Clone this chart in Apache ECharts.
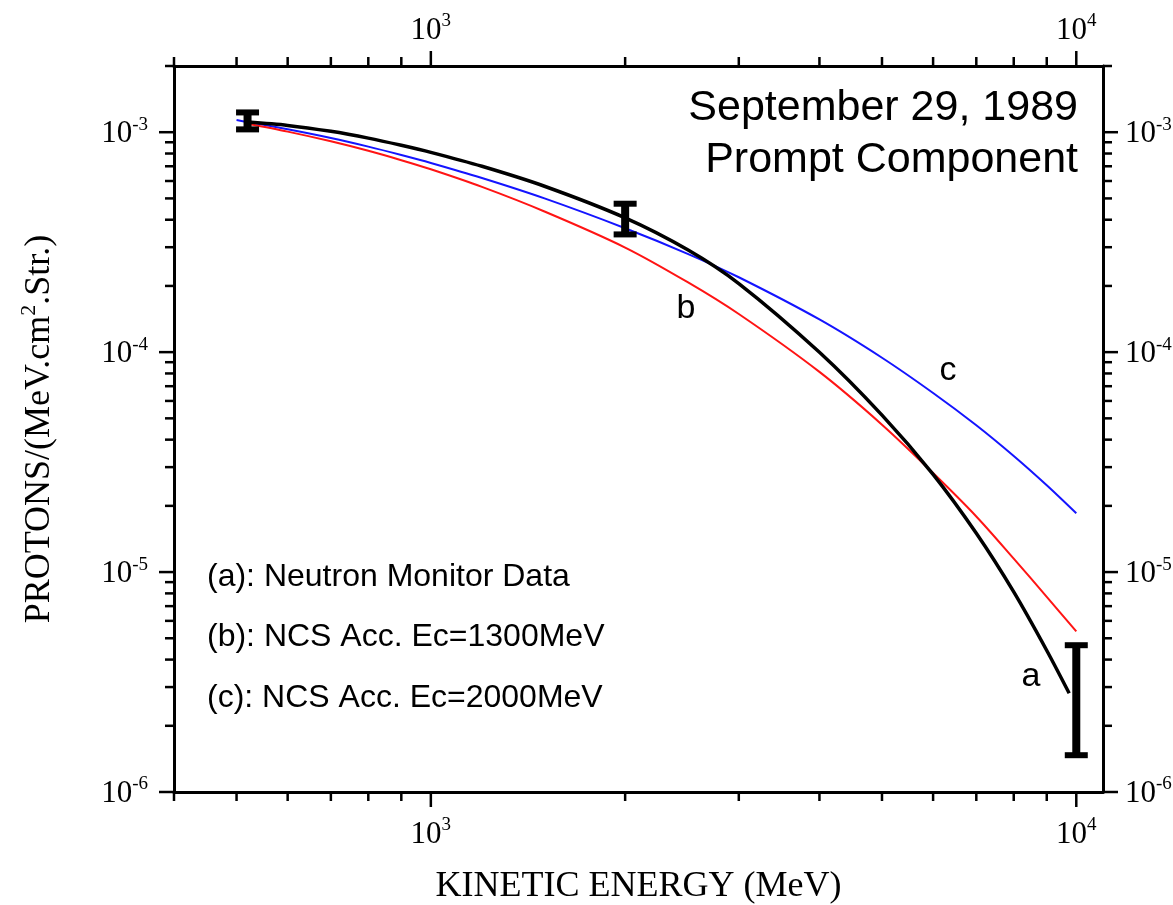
<!DOCTYPE html>
<html>
<head>
<meta charset="utf-8">
<script src="https://cdn.jsdelivr.net/npm/echarts@6.0.0/dist/echarts.min.js"></script>
<style>
  html, body { margin: 0; padding: 0; background: #fff; }
  #chart { width: 1173px; height: 905px; }
</style>
</head>
<body>
<div id="chart"></div>
<script>
// Kinetic energy (MeV) and differential proton flux, Sept 29 1989 GLE, prompt component
const energyA = [520, 600, 700, 800, 900, 1000, 1200, 1500, 2000, 2500, 3000, 4000, 5000, 6000, 7000, 8000, 9000, 9750];
const fluxA   = [1.112e-3, 1.074e-3, 1.009e-3, 9.40e-4, 8.72e-4, 8.10e-4, 7.00e-4, 5.68e-4, 4.08e-4, 2.92e-4, 2.05e-4, 9.98e-5, 5.17e-5, 2.78e-5, 1.50e-5, 8.12e-6, 4.40e-6, 2.81e-6];

const energyB = [520, 600, 700, 800, 900, 1000, 1200, 1500, 2000, 2500, 3000, 4000, 5000, 6000, 7000, 8000, 9000, 10000];
const fluxB   = [1.092e-3, 1.006e-3, 9.09e-4, 8.23e-4, 7.46e-4, 6.78e-4, 5.64e-4, 4.36e-4, 2.99e-4, 2.08e-4, 1.49e-4, 8.13e-5, 4.68e-5, 2.82e-5, 1.79e-5, 1.151e-5, 7.72e-6, 5.37e-6];

const energyC = [500, 520, 600, 700, 800, 900, 1000, 1200, 1500, 2000, 2500, 3000, 4000, 5000, 6000, 7000, 8000, 9000, 10000];
const fluxC   = [1.135e-3, 1.113e-3, 1.031e-3, 9.41e-4, 8.60e-4, 7.88e-4, 7.25e-4, 6.19e-4, 5.00e-4, 3.66e-4, 2.80e-4, 2.19e-4, 1.408e-4, 9.43e-5, 6.52e-5, 4.65e-5, 3.37e-5, 2.48e-5, 1.85e-5];

// Neutron monitor derived points with uncertainty range
const errEnergy = [520, 2000, 10000];
const errLow    = [1.03e-3, 3.43e-4, 1.47e-6];
const errHigh   = [1.23e-3, 4.73e-4, 4.65e-6];

// Axis ranges and tick positions
const X_MIN = 400, X_MAX = 11000;
const Y_MIN = 1e-6, Y_MAX = 2e-3;
const xMajorTicks = [1000, 10000];
const xMinorTicks = [400, 500, 600, 700, 800, 900, 2000, 3000, 4000, 5000, 6000, 7000, 8000, 9000];
const yMajorTicks = [1e-6, 1e-5, 1e-4, 1e-3];
const yMinorTicks = [2e-6, 3e-6, 4e-6, 5e-6, 6e-6, 7e-6, 8e-6, 9e-6,
                     2e-5, 3e-5, 4e-5, 5e-5, 6e-5, 7e-5, 8e-5, 9e-5,
                     2e-4, 3e-4, 4e-4, 5e-4, 6e-4, 7e-4, 8e-4, 9e-4, 2e-3];

const SERIF = 'Liberation Serif';
const SANS = 'Liberation Sans';

function powLabel(v) {
  const lg = Math.log10(v);
  const e = Math.round(lg);
  if (Math.abs(lg - e) > 1e-6) return '';
  return '{b|10}{s|' + e + '}';
}
const labelRich = {
  b: { fontFamily: SERIF, fontSize: 31, color: '#000', lineHeight: 34, verticalAlign: 'bottom' },
  s: { fontFamily: SERIF, fontSize: 19, color: '#000', lineHeight: 19, verticalAlign: 'top' }
};
const axisLineStyle = { show: true, lineStyle: { color: '#000', width: 3 } };

function logAxis(extra, margin) {
  return Object.assign({
    type: 'log',
    logBase: 10,
    axisLine: axisLineStyle,
    axisTick: { show: false },
    minorTick: { show: false },
    splitLine: { show: false },
    minorSplitLine: { show: false },
    axisLabel: { formatter: powLabel, rich: labelRich, margin: margin, showMinLabel: true, showMaxLabel: true }
  }, extra);
}

// Tick marks drawn on both sides of the frame (outward), through the axis scales
function tickSeries(values, major, horizontal) {
  const len = major ? 15 : 9;
  return {
    type: 'custom',
    silent: true,
    z: 5,
    data: values.map(v => horizontal ? [v, Y_MIN] : [X_MIN, v]),
    renderItem: function (params, api) {
      const cs = params.coordSys;
      const p = api.coord([api.value(0), api.value(1)]);
      const st = { stroke: '#000', lineWidth: 2.5 };
      if (horizontal) {
        const bottom = cs.y + cs.height, top = cs.y;
        return { type: 'group', children: [
          { type: 'line', shape: { x1: p[0], y1: bottom, x2: p[0], y2: bottom + len }, style: st },
          { type: 'line', shape: { x1: p[0], y1: top, x2: p[0], y2: top - len }, style: st }
        ] };
      }
      const left = cs.x, right = cs.x + cs.width;
      return { type: 'group', children: [
        { type: 'line', shape: { x1: left, y1: p[1], x2: left - len, y2: p[1] }, style: st },
        { type: 'line', shape: { x1: right, y1: p[1], x2: right + len, y2: p[1] }, style: st }
      ] };
    }
  };
}

function pairs(xs, ys) { return xs.map((x, i) => [x, ys[i]]); }

const chart = echarts.init(document.getElementById('chart'), null, { renderer: 'canvas' });

chart.setOption({
  backgroundColor: '#fff',
  animation: false,
  grid: { left: 174, right: 70, top: 66, bottom: 113, containLabel: false, outerBoundsMode: 'none' },
  xAxis: [
    logAxis({
      position: 'bottom', min: X_MIN, max: X_MAX,
      name: 'KINETIC ENERGY (MeV)', nameLocation: 'middle', nameGap: 77,
      nameTextStyle: { fontFamily: SERIF, fontSize: 36, color: '#000' }
    }, 24),
    logAxis({ position: 'top', min: X_MIN, max: X_MAX }, 20)
  ],
  yAxis: [
    logAxis({
      position: 'left', min: Y_MIN, max: Y_MAX,
      name: '{t|PROTONS/(MeV.cm}{s|2}{t|.Str.)}', nameLocation: 'middle', nameGap: 116, nameRotate: 90,
      nameTextStyle: {
        rich: {
          t: { fontFamily: SERIF, fontSize: 36, color: '#000', lineHeight: 40, verticalAlign: 'bottom' },
          s: { fontFamily: SERIF, fontSize: 22, color: '#000', lineHeight: 22, verticalAlign: 'top' }
        }
      }
    }, 26),
    logAxis({ position: 'right', min: Y_MIN, max: Y_MAX }, 22)
  ],
  series: [
    {
      name: 'c', type: 'line', data: pairs(energyC, fluxC), smooth: 0.3,
      showSymbol: false, lineStyle: { color: '#1414ff', width: 2 }, z: 2
    },
    {
      name: 'b', type: 'line', data: pairs(energyB, fluxB), smooth: 0.3,
      showSymbol: false, lineStyle: { color: '#ff1414', width: 2 }, z: 2
    },
    {
      name: 'a', type: 'line', data: pairs(energyA, fluxA), smooth: 0.3,
      showSymbol: false, lineStyle: { color: '#000', width: 3.5 }, z: 3
    },
    {
      name: 'error bars', type: 'custom', z: 6,
      data: errEnergy.map((x, i) => [x, errLow[i], errHigh[i]]),
      encode: { x: 0, y: [1, 2] },
      renderItem: function (params, api) {
        const top = api.coord([api.value(0), api.value(2)]);
        const bot = api.coord([api.value(0), api.value(1)]);
        const cx = top[0];
        const capW = 23, capH = 6, barW = 8;
        return { type: 'group', children: [
          { type: 'rect', shape: { x: cx - barW / 2, y: top[1], width: barW, height: bot[1] - top[1] }, style: { fill: '#000' } },
          { type: 'rect', shape: { x: cx - capW / 2, y: top[1] - capH / 2, width: capW, height: capH }, style: { fill: '#000' } },
          { type: 'rect', shape: { x: cx - capW / 2, y: bot[1] - capH / 2, width: capW, height: capH }, style: { fill: '#000' } }
        ] };
      }
    },
    tickSeries(xMajorTicks, true, true),
    tickSeries(xMinorTicks, false, true),
    tickSeries(yMajorTicks, true, false),
    tickSeries(yMinorTicks, false, false)
  ],
  graphic: [
    { type: 'text', x: 1078, y: 108, style: { text: 'September 29, 1989', font: '43px "Liberation Sans"', fill: '#000', textAlign: 'right', textVerticalAlign: 'middle' } },
    { type: 'text', x: 1078, y: 160, style: { text: 'Prompt Component', font: '43px "Liberation Sans"', fill: '#000', textAlign: 'right', textVerticalAlign: 'middle' } },
    { type: 'text', x: 207, y: 577, style: { text: '(a): Neutron Monitor Data', font: '32px "Liberation Sans"', fill: '#000', textAlign: 'left', textVerticalAlign: 'middle' } },
    { type: 'text', x: 207, y: 637, style: { text: '(b): NCS Acc. Ec=1300MeV', font: '32px "Liberation Sans"', fill: '#000', textAlign: 'left', textVerticalAlign: 'middle' } },
    { type: 'text', x: 207, y: 698, style: { text: '(c): NCS Acc. Ec=2000MeV', font: '32px "Liberation Sans"', fill: '#000', textAlign: 'left', textVerticalAlign: 'middle' } },
    { type: 'text', x: 686, y: 309, style: { text: 'b', font: '34px "Liberation Sans"', fill: '#000', textAlign: 'center', textVerticalAlign: 'middle' } },
    { type: 'text', x: 948, y: 371, style: { text: 'c', font: '34px "Liberation Sans"', fill: '#000', textAlign: 'center', textVerticalAlign: 'middle' } },
    { type: 'text', x: 1031, y: 677, style: { text: 'a', font: '34px "Liberation Sans"', fill: '#000', textAlign: 'center', textVerticalAlign: 'middle' } }
  ]
});
</script>
</body>
</html>
